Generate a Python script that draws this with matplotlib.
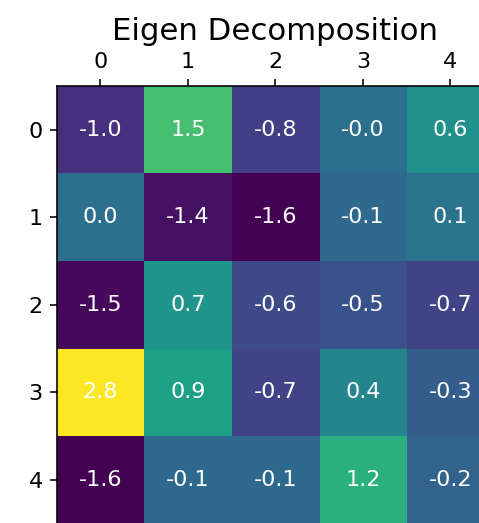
import matplotlib

matplotlib.use("Agg")
import matplotlib.pyplot as plt
import numpy as np

# values (rows 0..4, cols 0..4)
row_0 = [-1.0, 1.5, -0.8, -0.0, 0.6]
row_1 = [0.0, -1.4, -1.6, -0.1, 0.1]
row_2 = [-1.5, 0.7, -0.6, -0.5, -0.7]
row_3 = [2.8, 0.9, -0.7, 0.4, -0.3]
row_4 = [-1.6, -0.1, -0.1, 1.2, -0.2]
title = "Eigen Decomposition"

mat = np.array([row_0, row_1, row_2, row_3, row_4])

dpi = 144
fig = plt.figure(figsize=(479 / dpi, 523 / dpi), dpi=dpi)
ax = fig.add_axes([56.7 / 479, -0.5 / 523, 437.5 / 479, 437.5 / 523])
ax.matshow(mat, cmap="viridis", vmin=mat.min(), vmax=mat.max(), aspect="auto")

for i in range(mat.shape[0]):
    for j in range(mat.shape[1]):
        ax.text(j, i, f"{mat[i, j]:.1f}", ha="center", va="center",
                color="white", fontsize=11.2)

ax.set_xticks(range(mat.shape[1]))
ax.set_yticks(range(mat.shape[0]))
ax.tick_params(labelsize=11.2)
ax.set_title(title, fontsize=15.4)

fig.savefig("out.png", dpi=dpi)
